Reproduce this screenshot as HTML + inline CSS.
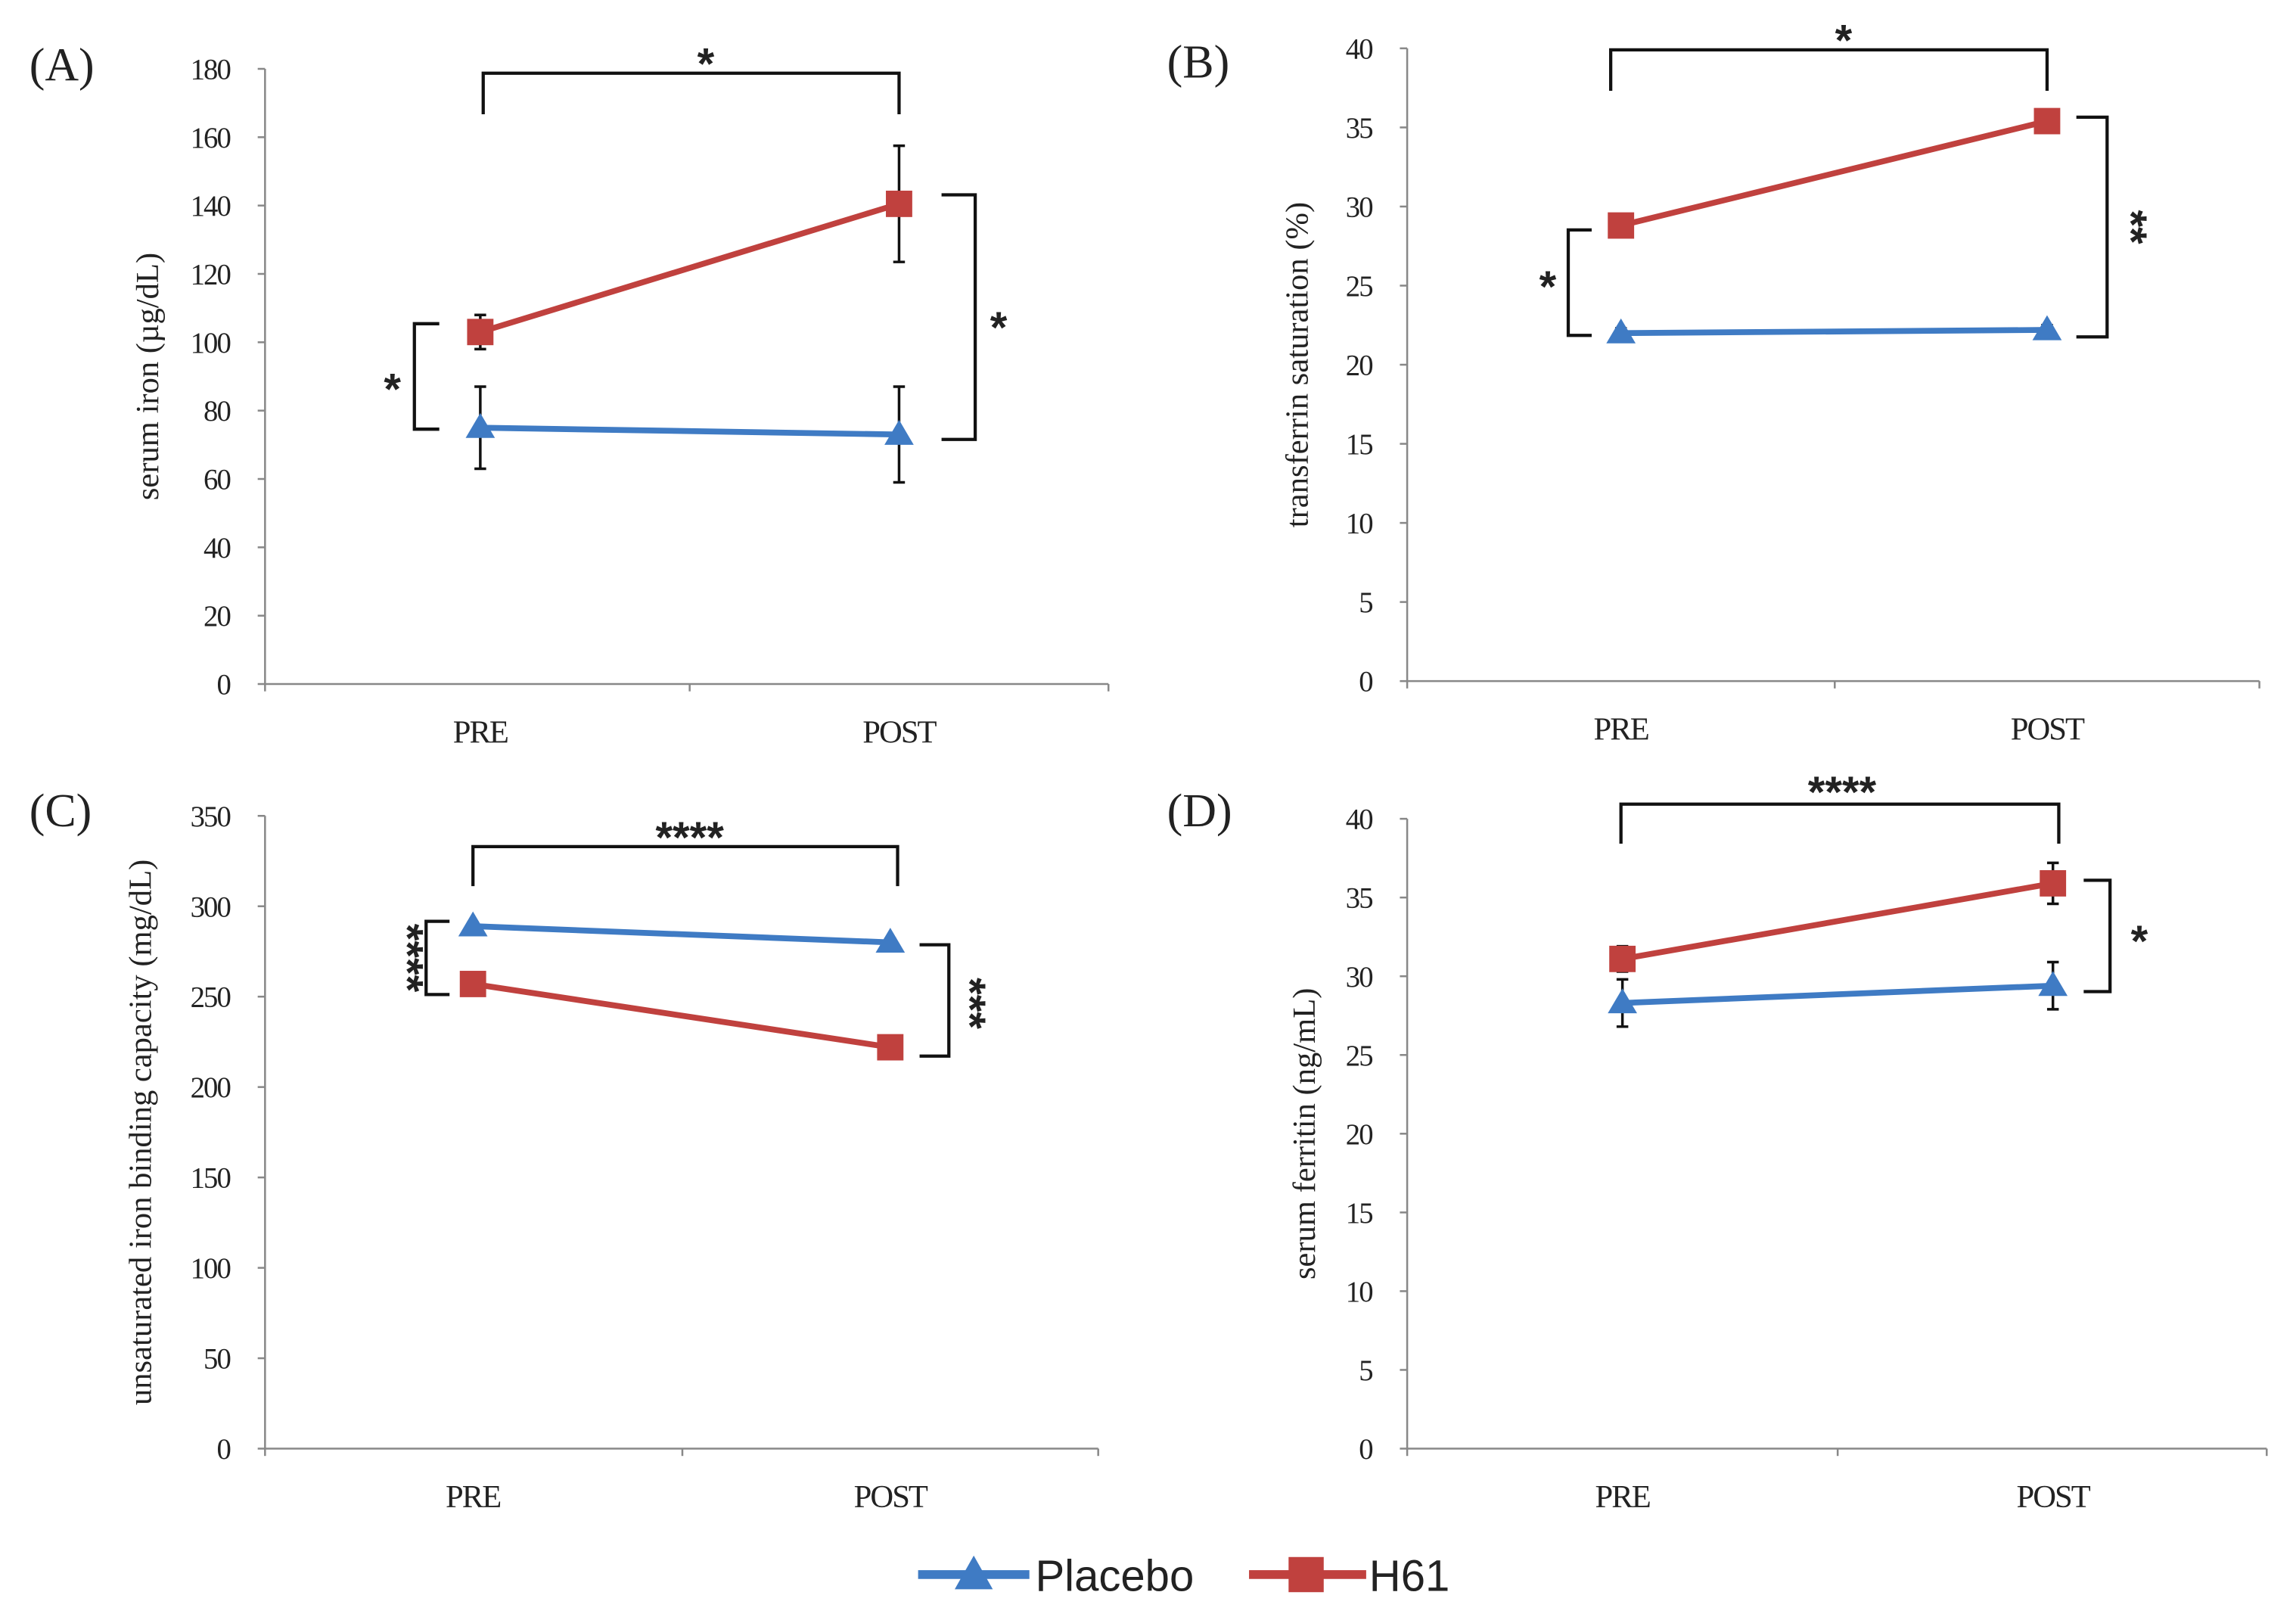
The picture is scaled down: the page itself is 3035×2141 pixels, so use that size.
<!DOCTYPE html>
<html><head><meta charset="utf-8"><style>
html,body{margin:0;padding:0;background:#fff;width:3035px;height:2141px;overflow:hidden}
svg{display:block}
text{font-family:"Liberation Serif",serif;fill:#222}
</style></head><body>
<svg id="fig" width="3035" height="2141" viewBox="0 0 1568 1106" preserveAspectRatio="none" xmlns="http://www.w3.org/2000/svg"></svg>
<script>
const categories = ["PRE","POST"];
const placeboA = [75, 73], placeboAErr = [12, 14];
const h61A = [103, 140.5], h61AErr = [5, 17];
const placeboB = [22, 22.2], placeboBErr = [0.3, 0.3];
const h61B = [28.8, 35.4], h61BErr = [0.3, 0.3];
const placeboC = [289, 280], placeboCErr = [2, 2];
const h61C = [257, 222], h61CErr = [2, 2];
const placeboD = [28.3, 29.4], placeboDErr = [1.5, 1.5];
const h61D = [31.1, 35.9], h61DErr = [0.8, 1.3];
const ticksA = [0,20,40,60,80,100,120,140,160,180];
const ticksB = [0,5,10,15,20,25,30,35,40];
const ticksC = [0,50,100,150,200,250,300,350];
const ticksD = [0,5,10,15,20,25,30,35,40];

const NS = "http://www.w3.org/2000/svg";
const svg = document.getElementById('fig');
function mk(tag, attrs, parent, txt){
  const e = document.createElementNS(NS, tag);
  for (const k in attrs) e.setAttribute(k, attrs[k]);
  if (txt !== undefined) e.textContent = txt;
  (parent || svg).appendChild(e);
  return e;
}
const BLUE = "#3f7bc4", RED = "#c0413e";

function panel(cfg){
  const g = mk('g', {});
  
  
  const max = cfg.ticks[cfg.ticks.length-1];
  const y = v => cfg.y0 - (v / max) * (cfg.y0 - cfg.y1);
  const xs = [cfg.xPre, cfg.xPost];
  const x = i => xs[i];
  const ax = mk('path', {d:`M${cfg.x0},${cfg.y1}V${cfg.y0}H${cfg.xEnd}`, stroke:'#888', 'stroke-width':1.3, fill:'none'}, g);
  
  
  [cfg.x0, cfg.xMid, cfg.xEnd].forEach(tx => mk('line', {x1:tx, x2:tx, y1:cfg.y0, y2:cfg.y0+5, stroke:'#888','stroke-width':1.3}, g));
  cfg.ticks.forEach(t => {
    mk('line', {x1:cfg.x0-5, x2:cfg.x0, y1:y(t), y2:y(t), stroke:'#888','stroke-width':1.3}, g);
    const tl = mk('text', {x:cfg.x0-24, y:y(t)+7, 'text-anchor':'end', 'font-size':20, 'letter-spacing':'-1'}, g, t);
    
    
  });
  categories.forEach((c,i) => {
    const cl = mk('text', {x:x(i), y:cfg.y0+40, 'text-anchor':'middle', 'font-size':22, 'letter-spacing':'-1'}, g, c);
    
    
  });
  const yt = mk('text', {transform:`translate(${cfg.ytX},${(cfg.y0+cfg.y1)/2}) rotate(-90)`, 'text-anchor':'middle', 'font-size':22}, g, cfg.ytitle);
  
  
  const pl = mk('text', {x:cfg.lx, y:cfg.ly, 'font-size':32}, g, cfg.label);
  
  
  const series = [
    {vals:cfg.pl, err:cfg.plE, col:BLUE, m:'tri', name:'placebo'},
    {vals:cfg.h, err:cfg.hE, col:RED, m:'sq', name:'h61'}];
  series.forEach(s => {
    s.vals.forEach((v,i) => {
      const e = mk('path', {d:`M${x(i)},${y(v-s.err[i])}V${y(v+s.err[i])}M${x(i)-4},${y(v-s.err[i])}h8M${x(i)-4},${y(v+s.err[i])}h8`, stroke:'#111','stroke-width':1.8, fill:'none'}, g);
      
      
    });
    const ln = mk('polyline', {points:s.vals.map((v,i)=>x(i)+','+y(v)).join(' '), stroke:s.col,'stroke-width':4, fill:'none'}, g);
    
    
    s.vals.forEach((v,i) => {
      let m;
      if (s.m === 'sq') m = mk('rect', {x:x(i)-9, y:y(v)-9, width:18, height:18, fill:s.col}, g);
      else m = mk('path', {d:`M${x(i)},${y(v)-10}L${x(i)+10},${y(v)+7}L${x(i)-10},${y(v)+7}Z`, fill:s.col}, g);
      
      
    });
  });
  cfg.sig.forEach(b => {
    const p = mk('path', {d:b.d, stroke:'#111','stroke-width':2.2, fill:'none'}, g);
    
    
    const t = mk('text', {x:b.tx, y:b.ty, 'text-anchor':'middle', 'dominant-baseline':'central', 'font-size':30, 'font-weight':'bold', 'font-family':'Liberation Sans, sans-serif', transform: b.rot ? `rotate(${b.rot},${b.tx},${b.ty})` : ''}, g, b.t);
    
    
  });
}

panel({id:'a', label:'(A)', lx:20, ly:55, x0:181, xMid:471, xEnd:757, xPre:328, xPost:614, y0:467, y1:47, ticks:ticksA,
  ytitle:'serum iron (µg/dL)', ytX:108, pl:placeboA, plE:placeboAErr, h:h61A, hE:h61AErr,
  sig:[{d:'M330,78V50H614V78', t:'*', tx:482, ty:44},
       {d:'M300,221H283V293H300', t:'*', tx:268, ty:266},
       {d:'M643,133H666V300H643', t:'*', tx:682, ty:224}]});
panel({id:'b', label:'(B)', lx:797, ly:53, x0:961, xMid:1253, xEnd:1543, xPre:1107, xPost:1398, y0:465, y1:33, ticks:ticksB,
  ytitle:'transferrin saturation (%)', ytX:893, pl:placeboB, plE:placeboBErr, h:h61B, hE:h61BErr,
  sig:[{d:'M1100,62V34H1398V62', t:'*', tx:1259, ty:28},
       {d:'M1087,157H1071V229H1087', t:'*', tx:1057, ty:196},
       {d:'M1418,80H1439V230H1418', t:'**', tx:1455, ty:155, rot:90}]});
panel({id:'c', label:'(C)', lx:20, ly:564, x0:181, xMid:466, xEnd:750, xPre:323, xPost:608, y0:989, y1:557, ticks:ticksC,
  ytitle:'unsaturated iron binding capacity (mg/dL)', ytX:103, pl:placeboC, plE:placeboCErr, h:h61C, hE:h61CErr,
  sig:[{d:'M323,605V578H613V605', t:'****', tx:471, ty:572},
       {d:'M307,629H291V679H307', t:'****', tx:278, ty:654, rot:90},
       {d:'M628,645H648V721H628', t:'***', tx:662, ty:685, rot:90}]});
panel({id:'d', label:'(D)', lx:797, ly:564, x0:961, xMid:1255, xEnd:1548, xPre:1108, xPost:1402, y0:989, y1:559, ticks:ticksD,
  ytitle:'serum  ferritin (ng/mL)', ytX:898, pl:placeboD, plE:placeboDErr, h:h61D, hE:h61DErr,
  sig:[{d:'M1107,576V549H1406V576', t:'****', tx:1258, ty:541},
       {d:'M1423,601H1441V677H1423', t:'*', tx:1461, ty:643}]});

const lg = mk('g', {});


const l1 = mk('g', {}, lg);


mk('line', {x1:627, x2:703, y1:1075, y2:1075, stroke:BLUE, 'stroke-width':6}, l1);
mk('path', {d:'M665,1062L678,1085L652,1085Z', fill:BLUE}, l1);
mk('text', {x:707, y:1086, 'font-size':30, 'font-family':'Liberation Sans, sans-serif', style:'font-family:"Liberation Sans",sans-serif'}, l1, 'Placebo');
const l2 = mk('g', {}, lg);


mk('line', {x1:853, x2:933, y1:1075, y2:1075, stroke:RED, 'stroke-width':6}, l2);
mk('rect', {x:880, y:1063, width:24, height:24, fill:RED}, l2);
mk('text', {x:935, y:1086, 'font-size':30, style:'font-family:"Liberation Sans",sans-serif'}, l2, 'H61');
document.querySelectorAll('text[font-family]').forEach(t => t.style.fontFamily = '"Liberation Sans", sans-serif');
</script>
</body></html>
